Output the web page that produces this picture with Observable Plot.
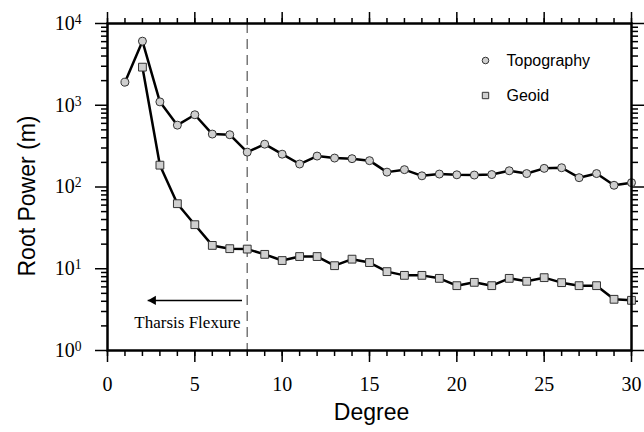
<!DOCTYPE html>
<html>
<head>
<meta charset="utf-8">
<script src="https://cdn.jsdelivr.net/npm/d3@7"></script>
<script src="https://cdn.jsdelivr.net/npm/@observablehq/plot@0.6"></script>
<style>
  html, body { margin: 0; padding: 0; background: white; }
</style>
</head>
<body>
<div id="chart"></div>
<script>
// ---- data ----
const degrees = [1,2,3,4,5,6,7,8,9,10,11,12,13,14,15,16,17,18,19,20,21,22,23,24,25,26,27,28,29,30];
const topography = [1915,6080,1100,571,765,444,436,267,334,252,191,239,226,222,210,152,163,137,144,141,140,142,158,146,169,172,130,146,105,113];
const geoidDegrees = [2,3,4,5,6,7,8,9,10,11,12,13,14,15,16,17,18,19,20,21,22,23,24,25,26,27,28,29,30];
const geoid = [2924,185,62.5,34.6,19.3,17.6,17.4,15.0,12.6,14.1,14.1,10.9,13.1,11.9,9.22,8.30,8.30,7.63,6.21,6.82,6.21,7.63,7.02,7.78,6.76,6.21,6.21,4.23,4.11];
const seriesNames = ["Topography", "Geoid"];
const xMajorTicks = [0,5,10,15,20,25,30];
const xMinorTicks = d3.range(0, 31);
const yMajorTicks = [1,10,100,1000,10000];
const yMinorTicks = [1,10,100,1000].flatMap(d => [2,3,4,5,6,7,8,9].map(k => k * d));
const flexureDegree = 8;
const annotationText = "Tharsis Flexure";
const arrowFrom = 7.7, arrowTo = 2.3, arrowLevel = 4.1;
const annotationAt = {x: 7.62, y: 2.2};

const topoData = degrees.map((d, i) => ({degree: d, value: topography[i]}));
const geoidData = geoidDegrees.map((d, i) => ({degree: d, value: geoid[i]}));

const fillGray = "#cfcfcf";
const markStroke = "#333";
const noLabel = () => "";

const svg = Plot.plot({
  width: 644,
  height: 432,
  marginLeft: 107,
  marginRight: 13,
  marginTop: 23,
  marginBottom: 82,
  style: {background: "white", fontFamily: "'Liberation Serif', 'Times New Roman', serif", fontSize: "20px", color: "black", overflow: "visible"},
  x: {domain: [0, 30], label: null},
  y: {type: "log", domain: [1, 10000], label: null},
  marks: [
    // dashed flexure line
    Plot.ruleX([flexureDegree], {stroke: "#777", strokeWidth: 1.5, strokeDasharray: "10,6"}),
    // axes: bottom
    Plot.axisX({anchor: "bottom", ticks: xMinorTicks, tickSize: 6, tickFormat: noLabel, strokeWidth: 1.5}),
    Plot.axisX({anchor: "bottom", ticks: xMajorTicks, tickSize: 12, tickPadding: 14, strokeWidth: 1.5,
                fontFamily: "'Liberation Serif', serif", fontSize: 20, tickFormat: d => String(d)}),
    // top
    Plot.axisX({anchor: "top", ticks: xMinorTicks, tickSize: 6, tickFormat: noLabel, strokeWidth: 1.5}),
    Plot.axisX({anchor: "top", ticks: xMajorTicks, tickSize: 12, tickFormat: noLabel, strokeWidth: 1.5}),
    // left
    Plot.axisY({anchor: "left", ticks: yMinorTicks, tickSize: 6, tickFormat: noLabel, strokeWidth: 1.5}),
    Plot.axisY({anchor: "left", ticks: yMajorTicks, tickSize: 12, tickPadding: 14, strokeWidth: 1.5,
                fontFamily: "'Liberation Serif', serif", fontSize: 20, tickFormat: d => "e" + Math.round(Math.log10(d))}),
    // right
    Plot.axisY({anchor: "right", ticks: yMinorTicks, tickSize: 6, tickFormat: noLabel, strokeWidth: 1.5}),
    Plot.axisY({anchor: "right", ticks: yMajorTicks, tickSize: 12, tickFormat: noLabel, strokeWidth: 1.5}),
    // lines
    Plot.line(topoData, {x: "degree", y: "value", stroke: "black", strokeWidth: 2.5}),
    Plot.line(geoidData, {x: "degree", y: "value", stroke: "black", strokeWidth: 2.5}),
    Plot.dot(topoData, {x: "degree", y: "value", r: 4, symbol: "circle", fill: fillGray, stroke: markStroke, strokeWidth: 1}),
    Plot.dot(geoidData, {x: "degree", y: "value", r: 4.4, symbol: "square", fill: fillGray, stroke: markStroke, strokeWidth: 1}),
    // annotation arrow and text
    Plot.link([{x1: arrowFrom, x2: arrowTo, y: arrowLevel}], {x1: "x1", x2: "x2", y1: "y", y2: "y", stroke: "black", strokeWidth: 1.5}),
    Plot.dot([{x: arrowTo, y: arrowLevel}], {x: "x", y: "y", symbol: "triangle", r: 3.5, rotate: -90, dx: 5.5, fill: "black", stroke: "none"}),
    Plot.text([annotationText], {x: annotationAt.x, y: annotationAt.y, textAnchor: "end", fontFamily: "'Liberation Serif', serif", fontSize: 17, fill: "black"}),
    // legend
    Plot.dot([seriesNames[0]], {frameAnchor: "top-left", dx: 378, dy: 37, r: 3.3, symbol: "circle", fill: fillGray, stroke: markStroke, strokeWidth: 1}),
    Plot.dot([seriesNames[1]], {frameAnchor: "top-left", dx: 378, dy: 72, r: 3.6, symbol: "square", fill: fillGray, stroke: markStroke, strokeWidth: 1}),
    Plot.text([seriesNames[0]], {text: d => d, frameAnchor: "top-left", dx: 399, dy: 37, textAnchor: "start", lineAnchor: "middle", fontFamily: "'Liberation Sans', Arial, sans-serif", fontSize: 16, fill: "black"}),
    Plot.text([seriesNames[1]], {text: d => d, frameAnchor: "top-left", dx: 399, dy: 72, textAnchor: "start", lineAnchor: "middle", fontFamily: "'Liberation Sans', Arial, sans-serif", fontSize: 16, fill: "black"}),
    // axis titles
    Plot.text(["Root Power (m)"], {text: d => d, frameAnchor: "left", dx: -80, dy: 9, rotate: -90, textAnchor: "middle", lineAnchor: "middle", fontFamily: "'Liberation Sans', Arial, sans-serif", fontSize: 23, fill: "black"}),
    Plot.text(["Degree"], {text: d => d, frameAnchor: "bottom", dx: 2, dy: 62, textAnchor: "middle", lineAnchor: "middle", fontFamily: "'Liberation Sans', Arial, sans-serif", fontSize: 23, fill: "black"}),
    // frame
    Plot.frame({stroke: "black", strokeWidth: 2.5})
  ]
});

// turn "eN" labels into 10 with superscript exponent
d3.select(svg).selectAll("text").each(function() {
  const t = d3.select(this);
  const s = t.text();
  const m = /^e(\d)$/.exec(s);
  if (m) {
    t.text("10");
    t.append("tspan").attr("dy", "-0.45em").attr("font-size", "0.68em").text(m[1]);
  }
});
// remove empty tick-label texts
d3.select(svg).selectAll("text").filter(function() { return this.textContent === ""; }).remove();

document.getElementById("chart").appendChild(svg);
</script>
</body>
</html>
